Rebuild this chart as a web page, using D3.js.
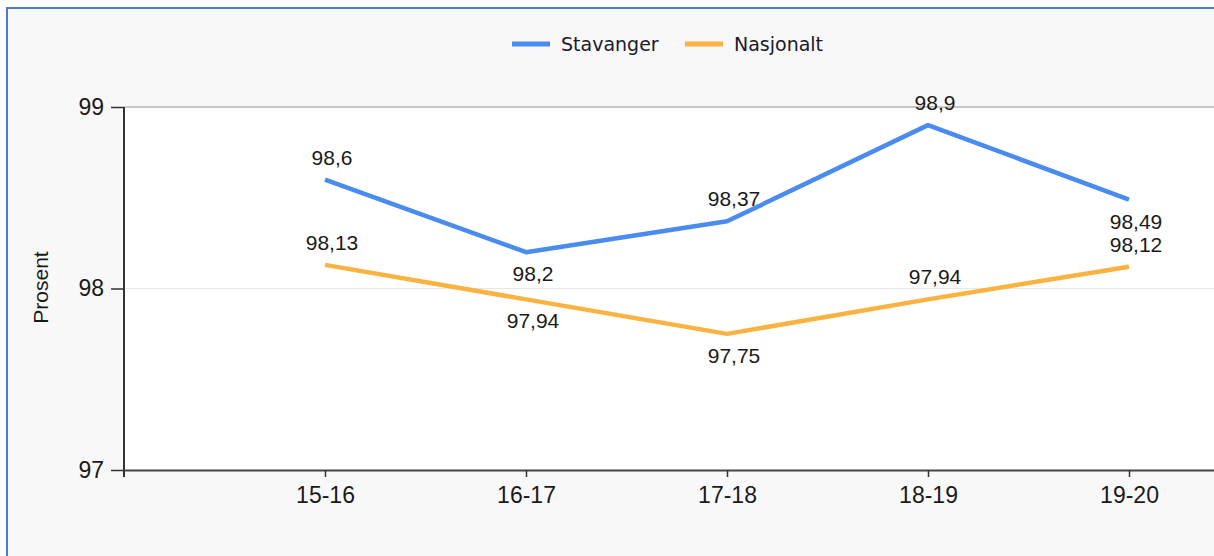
<!DOCTYPE html>
<html>
<head>
<meta charset="utf-8">
<script src="https://cdn.jsdelivr.net/npm/d3@7/dist/d3.min.js"></script>
<style>
  html, body { margin: 0; padding: 0; background: #ffffff; }
  svg { display: block; }
</style>
</head>
<body>
<svg id="chart" width="1214" height="556"></svg>
<script>
const categories = ["15-16", "16-17", "17-18", "18-19", "19-20"];
const stavanger = [98.6, 98.2, 98.37, 98.9, 98.49];
const nasjonalt = [98.13, 97.94, 97.75, 97.94, 98.12];
const stavangerLabelPos = ["above", "below", "above", "above", "below"];
const nasjonaltLabelPos = ["above", "below", "below", "above", "above"];
const yTicks = [97, 98, 99];
const seriesNames = ["Stavanger", "Nasjonalt"];
const seriesColors = ["#4a8bef", "#fab241"];

const W = 1214, H = 556;
const svg = d3.select("#chart");

// outer frame
svg.append("rect").attr("x", 7).attr("y", 8).attr("width", W).attr("height", H)
  .attr("fill", "#f8f8f8");
svg.append("line").attr("x1", 7).attr("x2", 7).attr("y1", 7).attr("y2", H)
  .attr("stroke", "#4a7bcf").attr("stroke-width", 2);
svg.append("line").attr("x1", 6).attr("x2", W).attr("y1", 8).attr("y2", 8)
  .attr("stroke", "#4a7bcf").attr("stroke-width", 2);

const plotL = 124, plotT = 107, plotB = 470, plotRFull = 1330;

const x = d3.scalePoint().domain(categories).range([plotL, plotRFull]).padding(1);
const y = d3.scaleLinear().domain([97, 99]).range([plotB, plotT]);

// plot background
svg.append("rect").attr("x", plotL).attr("y", plotT).attr("width", W - plotL).attr("height", plotB - plotT)
  .attr("fill", "#ffffff");

// gridlines
svg.append("g").selectAll("line").data(yTicks.filter(d => d > 97)).join("line")
  .attr("x1", plotL).attr("x2", W)
  .attr("y1", d => y(d)).attr("y2", d => y(d))
  .attr("stroke", d => d === 99 ? "#c8c8c8" : "#e8e8e8")
  .attr("stroke-width", d => d === 99 ? 2 : 1);

// y axis
const yAxis = svg.append("g").attr("transform", `translate(${plotL},0)`)
  .call(d3.axisLeft(y).tickValues(yTicks).tickSize(13).tickSizeOuter(0).tickPadding(7).tickFormat(d3.format("d")));
yAxis.select(".domain").remove();
yAxis.selectAll(".tick line").attr("stroke", "#333").attr("stroke-width", 1.5);
yAxis.selectAll("text").attr("font-family", "'Liberation Sans', Arial, sans-serif")
  .attr("font-size", 23).attr("fill", "#1a1a1a");
svg.append("line").attr("x1", plotL).attr("x2", plotL).attr("y1", plotT).attr("y2", plotB + 7)
  .attr("stroke", "#333").attr("stroke-width", 2);

// x axis
const xAxis = svg.append("g").attr("transform", `translate(0,${plotB})`)
  .call(d3.axisBottom(x).tickSize(7).tickSizeOuter(0).tickPadding(10));
xAxis.select(".domain").attr("stroke", "#444").attr("stroke-width", 2);
xAxis.selectAll(".tick line").attr("stroke", "#333").attr("stroke-width", 1.5);
xAxis.selectAll("text").attr("font-family", "'Liberation Sans', Arial, sans-serif")
  .attr("font-size", 23).attr("fill", "#1a1a1a");

// y axis title
svg.append("text").attr("transform", `translate(48,${y(98) - 1}) rotate(-90)`)
  .attr("text-anchor", "middle").attr("font-family", "'Liberation Sans', Arial, sans-serif")
  .attr("font-size", 21).attr("fill", "#1a1a1a").text("Prosent");

// lines
const line = d3.line().x((d, i) => x(categories[i])).y(d => y(d));
const allSeries = [stavanger, nasjonalt];
const allPos = [stavangerLabelPos, nasjonaltLabelPos];
allSeries.forEach((s, k) => {
  svg.append("path").datum(s).attr("d", line).attr("fill", "none")
    .attr("stroke", seriesColors[k]).attr("stroke-width", 4.5)
    .attr("stroke-linejoin", "round");
});
allSeries.forEach((s, k) => {
  svg.append("g").selectAll("text").data(s).join("text")
    .attr("x", (d, i) => x(categories[i]) + 7)
    .attr("y", (d, i) => allPos[k][i] === "above" ? y(d) - 15 : y(d) + 29)
    .attr("text-anchor", "middle")
    .attr("font-family", "'Liberation Sans', Arial, sans-serif")
    .attr("font-size", 21).attr("fill", "#1a1a1a")
    .text(d => String(d).replace(".", ","));
});

// legend
const legendX = [512, 685];
const lg = svg.append("g");
seriesNames.forEach((name, k) => {
  lg.append("line").attr("x1", legendX[k]).attr("x2", legendX[k] + 38)
    .attr("y1", 44).attr("y2", 44).attr("stroke", seriesColors[k]).attr("stroke-width", 5);
  lg.append("text").attr("x", legendX[k] + 49).attr("y", 51)
    .attr("font-family", "'DejaVu Sans', Verdana, sans-serif")
    .attr("font-size", 19).attr("fill", "#1a1a2a").text(name);
});
</script>
</body>
</html>
